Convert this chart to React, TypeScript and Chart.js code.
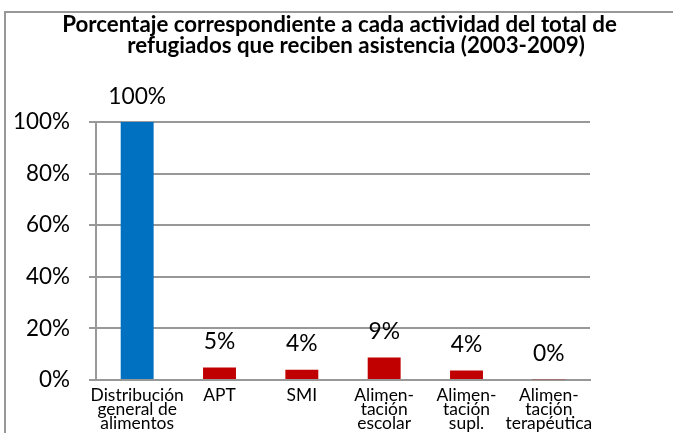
import React, { useEffect, useRef } from "react";
import { Chart, registerables } from "chart.js";

Chart.register(...registerables);

const categories: string[][] = [
  ["Distribución", "general de", "alimentos"],
  ["APT"],
  ["SMI"],
  ["Alimen-", "tación", "escolar"],
  ["Alimen-", "tación", "supl."],
  ["Alimen-", "tación", "terapéutica"],
];
const values: number[] = [100, 4.8, 4.0, 8.7, 3.7, 0.3];
const barColors: string[] = ["#0070C0", "#C00000", "#C00000", "#C00000", "#C00000", "#C00000"];
const titleLines: string[] = [
  "Porcentaje correspondiente a cada actividad del total de",
  "refugiados que reciben asistencia (2003-2009)",
];
const yMin = 0;
const yMax = 100;
const yStep = 20;

const FAMILY = "Lato, 'Open Sans', sans-serif";
const W = 673;
const H = 433;
const GRAY = "#989898";

function fitSize(text: string, weight: string, target: number): number {
  const c = document.createElement("canvas").getContext("2d")!;
  c.font = `${weight} 100px ${FAMILY}`;
  const w = c.measureText(text).width;
  return (100 * target) / w;
}

export default function App() {
  const ref = useRef<HTMLCanvasElement>(null);

  useEffect(() => {
    const titleSize = fitSize(titleLines[0], "bold", 555);
    const labelSize = fitSize("100%", "normal", 58);
    const yTickSize = fitSize("100%", "normal", 57);
    const xTickSize =
      (fitSize("Distribución", "normal", 92) + fitSize("terapéutica", "normal", 88)) / 2;

    const framePlugin = {
      id: "frame",
      beforeDraw(chart: any) {
        const ctx = chart.ctx;
        ctx.save();
        ctx.strokeStyle = GRAY;
        ctx.lineWidth = 2;
        ctx.beginPath();
        ctx.moveTo(5, H);
        ctx.lineTo(5, 12);
        ctx.lineTo(W, 12);
        ctx.stroke();
        ctx.restore();
      },
    };

    const titlePlugin = {
      id: "customTitle",
      afterDraw(chart: any) {
        const ctx = chart.ctx;
        ctx.save();
        ctx.fillStyle = "#000";
        ctx.font = `bold ${titleSize}px ${FAMILY}`;
        ctx.textAlign = "center";
        ctx.textBaseline = "alphabetic";
        ctx.fillText(titleLines[0], 339.5, 32);
        ctx.fillText(titleLines[1], 356, 53);
        ctx.restore();
      },
    };

    const labelPlugin = {
      id: "valueLabels",
      afterDatasetsDraw(chart: any) {
        const ctx = chart.ctx;
        const meta = chart.getDatasetMeta(0);
        ctx.save();
        ctx.fillStyle = "#000";
        ctx.font = `${labelSize}px ${FAMILY}`;
        ctx.textAlign = "center";
        ctx.textBaseline = "alphabetic";
        meta.data.forEach((bar: any, i: number) => {
          const v = chart.data.datasets[0].data[i] as number;
          ctx.fillText(`${Math.round(v)}%`, bar.x, bar.y - 18.5);
        });
        ctx.restore();
      },
    };

    const chart = new Chart(ref.current!, {
      type: "bar",
      data: {
        labels: categories as any,
        datasets: [
          {
            data: values,
            backgroundColor: barColors,
            borderWidth: 0,
            categoryPercentage: 0.4,
            barPercentage: 1,
          },
        ],
      },
      options: {
        responsive: false,
        animation: false,
        devicePixelRatio: 1,
        layout: { padding: { top: 122, right: 83, left: 0, bottom: 0 } },
        plugins: {
          legend: { display: false },
          title: { display: false },
          tooltip: { enabled: false },
        },
        scales: {
          x: {
            afterFit(scale: any) {
              scale.height = 53;
            },
            grid: { display: false, drawTicks: false },
            border: { display: true, color: GRAY, width: 2 },
            ticks: {
              color: "#000",
              padding: 9,
              maxRotation: 0,
              autoSkip: false,
              font: { family: FAMILY, size: xTickSize, lineHeight: 13.6 / xTickSize },
            },
          },
          y: {
            min: yMin,
            max: yMax,
            afterFit(scale: any) {
              scale.width = 96;
            },
            grid: { color: GRAY, lineWidth: 2, tickLength: 7, drawTicks: true },
            border: { display: true, color: GRAY, width: 2 },
            ticks: {
              stepSize: yStep,
              color: "#000",
              padding: 19,
              font: { family: FAMILY, size: yTickSize },
              callback: (v: any) => `${v}%`,
            },
          },
        },
      },
      plugins: [framePlugin, titlePlugin, labelPlugin],
    });
    return () => chart.destroy();
  }, []);

  return (
    <div style={{ position: "absolute", left: 0, top: 0, width: W, height: H, overflow: "hidden" }}>
      <canvas ref={ref} width={W} height={H} style={{ display: "block" }} />
    </div>
  );
}
